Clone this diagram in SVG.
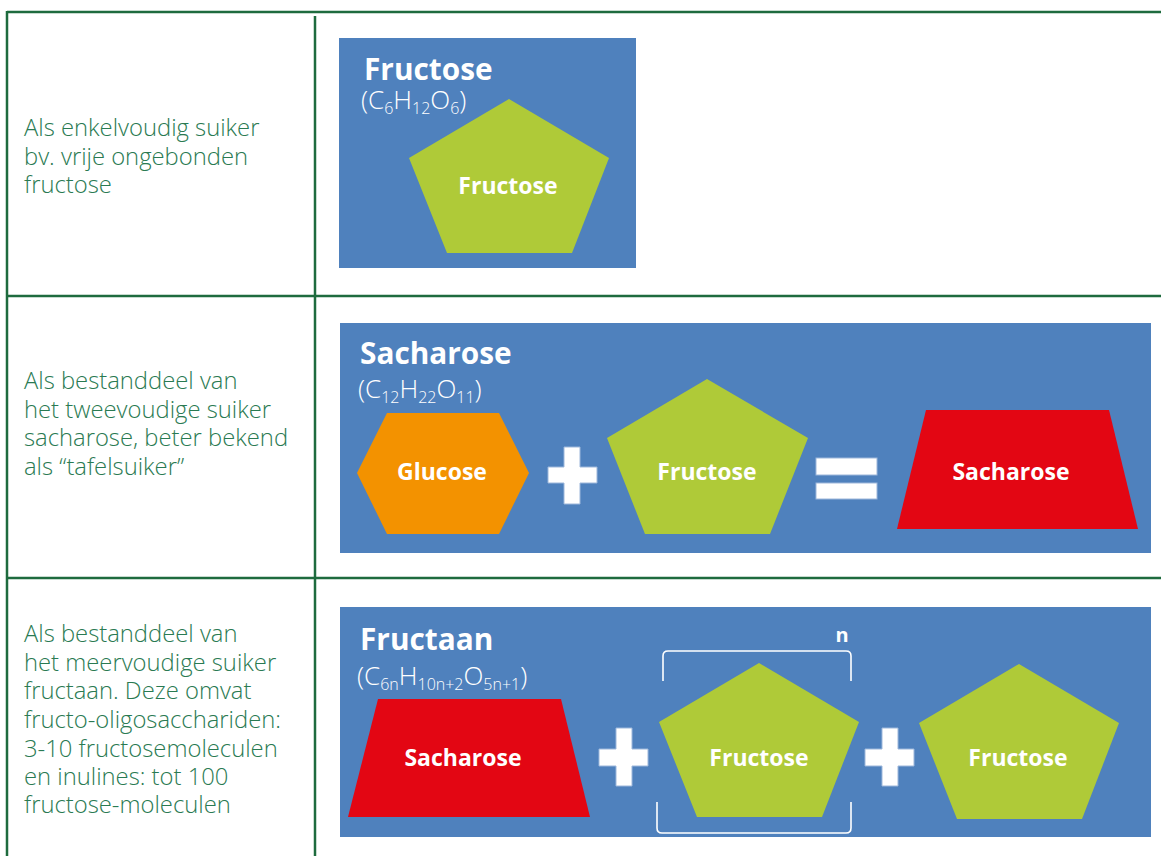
<svg xmlns="http://www.w3.org/2000/svg" width="1161" height="856" viewBox="0 0 1161 856">
<style>
.grid{stroke:#1e6b3e;stroke-width:2.5;fill:none}
.desc{font-family:"Open Sans","Liberation Sans",sans-serif;font-weight:300;font-size:23.8px;fill:#2a7a52}
.panel{fill:#4f81bd}
.title{font-family:"Open Sans","Liberation Sans",sans-serif;font-weight:700;font-size:29.8px;fill:#fff}
.formula{font-family:"Open Sans","Liberation Sans",sans-serif;font-weight:300;font-size:26px;fill:#fff}
.sub{font-size:16px}
.lbl{font-family:"Open Sans","Liberation Sans",sans-serif;font-weight:700;font-size:23px;fill:#fff;text-anchor:middle}
.fru{fill:#afca38}
.glu{fill:#f39200}
.sac{fill:#e30613}
.op{fill:#fff;stroke:#9db7db;stroke-width:1}
.brk{fill:none;stroke:#fff;stroke-width:1.6}
</style>
<rect width="1161" height="856" fill="#fff"/>
<g id="table">
<line class="grid" x1="7" y1="12" x2="1161" y2="12"/>
<line class="grid" x1="7" y1="11" x2="7" y2="856"/>
<line class="grid" x1="315" y1="16" x2="315" y2="856"/>
<line class="grid" x1="8" y1="296" x2="1161" y2="296"/>
<line class="grid" x1="8" y1="578" x2="1161" y2="578"/>
</g>
<g id="desc1">
<text class="desc" x="24" y="136">Als enkelvoudig suiker</text>
<text class="desc" x="24" y="165">bv. vrije ongebonden</text>
<text class="desc" x="24" y="193">fructose</text>
</g>
<g id="desc2">
<text class="desc" x="24" y="389">Als bestanddeel van</text>
<text class="desc" x="24" y="418">het tweevoudige suiker</text>
<text class="desc" x="24" y="446">sacharose, beter bekend</text>
<text class="desc" x="24" y="475">als “tafelsuiker”</text>
</g>
<g id="desc3">
<text class="desc" x="24" y="642">Als bestanddeel van</text>
<text class="desc" x="24" y="671">het meervoudige suiker</text>
<text class="desc" x="24" y="699">fructaan. Deze omvat</text>
<text class="desc" x="24" y="728">fructo-oligosacchariden:</text>
<text class="desc" x="24" y="757">3-10 fructosemoleculen</text>
<text class="desc" x="24" y="785">en inulines: tot 100</text>
<text class="desc" x="24" y="813">fructose-moleculen</text>
</g>
<g id="panel1">
<rect class="panel" x="339" y="38" width="297" height="230"/>
<text class="title" x="364" y="80">Fructose</text>
<text class="formula" x="361" y="109">(C<tspan class="sub" dy="5">6</tspan><tspan dy="-5">H</tspan><tspan class="sub" dy="5">12</tspan><tspan dy="-5">O</tspan><tspan class="sub" dy="5">6</tspan><tspan dy="-5">)</tspan></text>
</g>
<g id="fructose1">
<polygon class="fru" points="509,99 609,158 572,253 447,253 409,158"/>
<text class="lbl" x="508" y="194">Fructose</text>
</g>
<g id="panel2">
<rect class="panel" x="340" y="323" width="811" height="230"/>
<text class="title" x="360" y="364">Sacharose</text>
<text class="formula" x="358" y="398">(C<tspan class="sub" dy="5">12</tspan><tspan dy="-5">H</tspan><tspan class="sub" dy="5">22</tspan><tspan dy="-5">O</tspan><tspan class="sub" dy="5">11</tspan><tspan dy="-5">)</tspan></text>
</g>
<g id="glucose2">
<polygon class="glu" points="357,473 387,413 499,413 529,473 499,534 387,534"/>
<text class="lbl" x="442" y="480">Glucose</text>
</g>
<g id="plus2">
<path class="op" d="M564,447h16v20h17v16h-17v21h-16v-21h-16v-16h16z"/>
</g>
<g id="fructose2">
<polygon class="fru" points="707,379 808,438 770,534 645,534 607,438"/>
<text class="lbl" x="707" y="480">Fructose</text>
</g>
<g id="equals2">
<rect class="op" x="816" y="458" width="61" height="17"/>
<rect class="op" x="816" y="483" width="61" height="16"/>
</g>
<g id="sacharose2">
<polygon class="sac" points="926,410 1109,410 1138,529 897,529"/>
<text class="lbl" x="1011" y="480">Sacharose</text>
</g>
<g id="panel3">
<rect class="panel" x="340" y="607" width="811" height="230"/>
<text class="title" x="360" y="650">Fructaan</text>
<text class="formula" x="357" y="685">(C<tspan class="sub" dy="5">6n</tspan><tspan dy="-5">H</tspan><tspan class="sub" dy="5">10n+2</tspan><tspan dy="-5">O</tspan><tspan class="sub" dy="5">5n+1</tspan><tspan dy="-5">)</tspan></text>
</g>
<g id="sacharose3">
<polygon class="sac" points="378,699 561,699 590,817 348,817"/>
<text class="lbl" x="463" y="766">Sacharose</text>
</g>
<g id="plus3a">
<path class="op" d="M616,728h16v21h16v17h-16v20h-16v-20h-17v-17h17z"/>
</g>
<g id="bracket">
<path class="brk" d="M663,681V656q0,-5 5,-5H846q5,0 5,5V681"/>
<path class="brk" d="M657,802V828q0,5 5,5H846q5,0 5,-5V802"/>
<text class="lbl" x="842" y="642" style="font-size:20px">n</text>
</g>
<g id="fructose3">
<polygon class="fru" points="759,663 859,722 822,817 697,817 659,722"/>
<text class="lbl" x="759" y="766">Fructose</text>
</g>
<g id="plus3b">
<path class="op" d="M882,728h16v21h16v17h-16v20h-16v-20h-17v-17h17z"/>
</g>
<g id="fructose4">
<polygon class="fru" points="1019,664 1119,723 1082,819 957,819 919,723"/>
<text class="lbl" x="1018" y="766">Fructose</text>
</g>
</svg>
